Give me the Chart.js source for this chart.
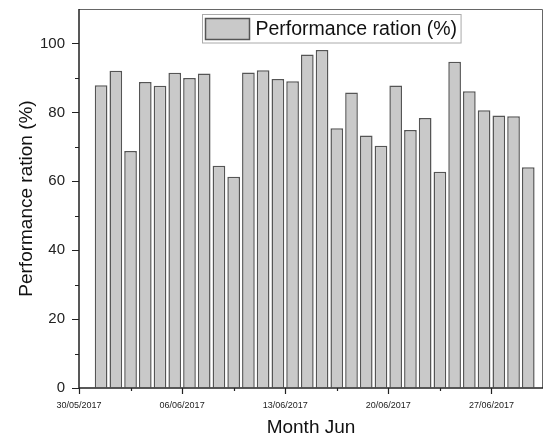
<!DOCTYPE html>
<html>
<head>
<meta charset="utf-8">
<title>Performance ration</title>
<script src="https://cdn.jsdelivr.net/npm/chart.js@4"></script>
<style>
  html, body { margin: 0; padding: 0; background: #fff; }
  #chart { display: block; }
</style>
</head>
<body>
<canvas id="chart" width="546" height="439"></canvas>
<script>
  // June 2017, one bar per day
  const juneDays = [1, 2, 3, 4, 5, 6, 7, 8, 9, 10, 11, 12, 13, 14, 15,
    16, 17, 18, 19, 20, 21, 22, 23, 24, 25, 26, 27, 28, 29, 30];
  const performanceRatio = [87.9, 92.1, 68.8, 88.8, 87.7, 91.5, 90.0, 91.3, 64.5, 61.3,
    91.6, 92.2, 89.7, 89.0, 96.8, 98.1, 75.4, 85.8, 73.3, 70.3,
    87.8, 74.9, 78.4, 62.8, 94.7, 86.1, 80.6, 79.1, 78.9, 64.1];

  // x axis counts days from 30/05/2017
  const dateTickDays = [0, 7, 14, 21, 28];
  const dateTickLabels = ["30/05/2017", "06/06/2017", "13/06/2017", "20/06/2017", "27/06/2017"];
  const yTicks = [0, 20, 40, 60, 80, 100];

  const seriesLabel = "Performance ration (%)";
  const fontFamily = '"Liberation Sans", Arial, sans-serif';

  // bar for June d sits half a day before its date mark (days since 30/05 = d + 1)
  const points = juneDays.map((d, i) => ({ x: d + 0.5, y: performanceRatio[i] }));

  const frameAndTicks = {
    id: "frameAndTicks",
    afterDraw(chart) {
      const { ctx, chartArea } = chart;
      const xs = chart.scales.x;
      const ys = chart.scales.y;
      ctx.save();
      // thin frame on top and right
      ctx.strokeStyle = "#666";
      ctx.lineWidth = 1;
      ctx.beginPath();
      ctx.moveTo(chartArea.left, chartArea.top + 0.5);
      ctx.lineTo(chartArea.right - 0.5, chartArea.top + 0.5);
      ctx.lineTo(chartArea.right - 0.5, chartArea.bottom);
      ctx.stroke();

      // axes
      ctx.strokeStyle = "#222";
      ctx.lineWidth = 1.5;
      ctx.beginPath();
      ctx.moveTo(chartArea.left, chartArea.top);
      ctx.lineTo(chartArea.left, chartArea.bottom);
      ctx.lineTo(chartArea.right, chartArea.bottom);
      ctx.stroke();

      // y ticks, major and minor, pointing out
      ctx.lineWidth = 1.2;
      ctx.beginPath();
      for (let v = 0; v <= 100; v += 10) {
        const py = Math.round(ys.getPixelForValue(v)) + 0.5;
        const len = v % 20 === 0 ? 7 : 4;
        ctx.moveTo(chartArea.left, py);
        ctx.lineTo(chartArea.left - len, py);
      }
      // x ticks, every 3.5 days
      for (let v = 0; v <= 28; v += 3.5) {
        const px = Math.round(xs.getPixelForValue(v)) + 0.5;
        const len = v % 7 === 0 ? 6 : 3;
        ctx.moveTo(px, chartArea.bottom);
        ctx.lineTo(px, chartArea.bottom + len);
      }
      ctx.stroke();

      // legend inside the plot, near the top
      const ds = chart.data.datasets[0];
      ctx.font = "19.5px " + fontFamily;
      const textW = ctx.measureText(ds.label).width;
      const boxX = chartArea.left + 123.5;
      const boxY = chartArea.top + 5.5;
      const boxW = 53 + textW + 4;
      const boxH = 28.5;
      ctx.fillStyle = "#fff";
      ctx.fillRect(boxX, boxY, boxW, boxH);
      ctx.strokeStyle = "#aaa";
      ctx.lineWidth = 1;
      ctx.strokeRect(boxX, boxY, boxW, boxH);
      ctx.fillStyle = ds.backgroundColor;
      ctx.strokeStyle = ds.borderColor;
      ctx.lineWidth = 1.5;
      ctx.fillRect(boxX + 3, boxY + 4, 44, 21);
      ctx.strokeRect(boxX + 3, boxY + 4, 44, 21);
      ctx.fillStyle = "#111";
      ctx.textBaseline = "middle";
      ctx.textAlign = "left";
      ctx.fillText(ds.label, boxX + 53, boxY + boxH / 2 + 1);
      ctx.restore();
    },
  };

  new Chart(document.getElementById("chart"), {
    type: "bar",
    data: {
      datasets: [
        {
          label: seriesLabel,
          data: points,
          backgroundColor: "#c9c9c9",
          borderColor: "#555",
          borderWidth: 1.5,
          barPercentage: 0.86,
          categoryPercentage: 1,
        },
      ],
    },
    options: {
      responsive: false,
      animation: false,
      layout: { padding: { top: 9, right: 3, bottom: 0, left: 0 } },
      plugins: {
        legend: { display: false },
        tooltip: { enabled: false },
      },
      scales: {
        x: {
          type: "linear",
          min: 0,
          max: 31.5,
          offset: false,
          grid: { display: true, offset: false, drawOnChartArea: false, drawTicks: false },
          border: { display: false },
          afterBuildTicks(scale) {
            scale.ticks = dateTickDays.map((v) => ({ value: v }));
          },
          afterFit(scale) {
            scale.height = 51;
          },
          ticks: {
            autoSkip: false,
            maxRotation: 0,
            padding: 12,
            color: "#222",
            font: { family: fontFamily, size: 9 },
            callback(value) {
              const idx = dateTickDays.indexOf(value);
              return idx >= 0 ? dateTickLabels[idx] : "";
            },
          },
          title: {
            display: true,
            text: "Month Jun",
            color: "#111",
            font: { family: fontFamily, size: 19 },
            padding: { top: 0, bottom: 0 },
          },
        },
        y: {
          min: 0,
          max: 110,
          grid: { display: true, drawOnChartArea: false, drawTicks: false },
          border: { display: false },
          afterBuildTicks(scale) {
            scale.ticks = yTicks.map((v) => ({ value: v }));
          },
          afterFit(scale) {
            scale.width = 79;
            // label padding would otherwise push the plot top down
            scale.paddingTop = 0;
            scale.paddingBottom = 0;
          },
          ticks: {
            padding: 14,
            color: "#222",
            font: { family: fontFamily, size: 15 },
          },
          title: {
            display: true,
            text: seriesLabel,
            color: "#111",
            font: { family: fontFamily, size: 19 },
            padding: { top: 15, bottom: 0 },
          },
        },
      },
    },
    plugins: [frameAndTicks],
  });
</script>
</body>
</html>
